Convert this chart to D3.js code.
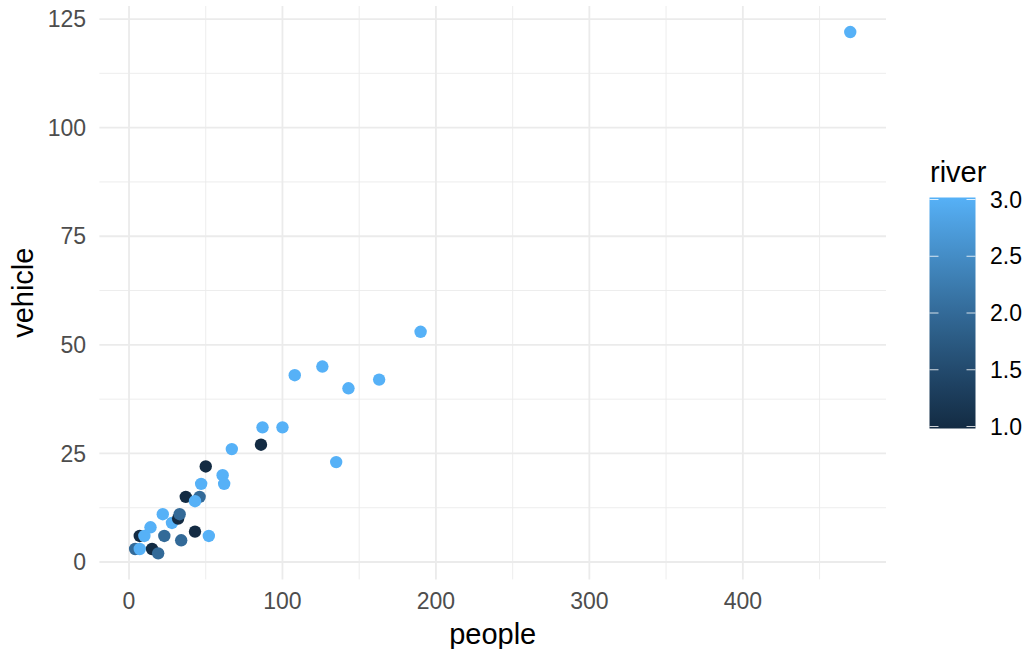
<!DOCTYPE html>
<html><head><meta charset="utf-8">
<script src="https://cdn.jsdelivr.net/npm/d3@7"></script>
<style>body{margin:0;background:#fff;font-family:"Liberation Sans",Arial,sans-serif;}</style>
</head><body><svg id="c" width="1028" height="649"></svg>
<script>
const people  = [4, 7, 15, 19, 7, 10, 23, 34, 43, 52, 14, 22, 28, 32, 33, 37, 46, 43, 47, 50, 61, 62, 67, 86, 87, 100, 135, 108, 126, 143, 163, 190, 470];
const vehicle = [3, 3, 3, 2, 6, 6, 6, 5, 7, 6, 8, 11, 9, 10, 11, 15, 15, 14, 18, 22, 20, 18, 26, 27, 31, 31, 23, 43, 45, 40, 42, 53, 122];
const river   = [2, 3, 1, 2, 1, 3, 2, 2, 1, 3, 3, 3, 3, 1, 2, 1, 2, 3, 3, 1, 3, 3, 3, 1, 3, 3, 3, 3, 3, 3, 3, 3, 3];
const xTicks = [0, 100, 200, 300, 400];
const yTicks = [0, 25, 50, 75, 100, 125];
const legendTicks = [1.0, 1.5, 2.0, 2.5, 3.0];

const svg = d3.select("#c");
const L = 99.4, R = 886, T = 6, B = 579.4;
const x = d3.scaleLinear().domain([-19.3, 493.3]).range([L, R]);
const y = d3.scaleLinear().domain([-4, 128]).range([B, T]);
const col = d3.scaleLinear().domain([1, 3]).range(["#132B43", "#56B1F7"]).interpolate(d3.interpolateLab);

const g = svg.append("g");
const xMinor = [50, 150, 250, 350, 450];
const yMinor = [12.5, 37.5, 62.5, 87.5, 112.5];
g.selectAll(".vx").data(xMinor).enter().append("line")
  .attr("x1", d => x(d)).attr("x2", d => x(d)).attr("y1", T).attr("y2", B)
  .attr("stroke", "#EBEBEB").attr("stroke-width", 0.9);
g.selectAll(".hy").data(yMinor).enter().append("line")
  .attr("y1", d => y(d)).attr("y2", d => y(d)).attr("x1", L).attr("x2", R)
  .attr("stroke", "#EBEBEB").attr("stroke-width", 0.9);
g.selectAll(".mx").data(xTicks).enter().append("line")
  .attr("x1", d => x(d)).attr("x2", d => x(d)).attr("y1", T).attr("y2", B)
  .attr("stroke", "#EBEBEB").attr("stroke-width", 1.8);
g.selectAll(".my").data(yTicks).enter().append("line")
  .attr("y1", d => y(d)).attr("y2", d => y(d)).attr("x1", L).attr("x2", R)
  .attr("stroke", "#EBEBEB").attr("stroke-width", 1.8);

g.selectAll(".xl").data(xTicks).enter().append("text")
  .attr("x", d => x(d)).attr("y", 609).attr("text-anchor", "middle")
  .attr("font-size", 23).attr("fill", "#4D4D4D").text(d => d);
g.selectAll(".yl").data(yTicks).enter().append("text")
  .attr("x", 86).attr("y", d => y(d) + 8.2).attr("text-anchor", "end")
  .attr("font-size", 23).attr("fill", "#4D4D4D").text(d => d);

svg.append("text").attr("x", (L + R) / 2).attr("y", 644).attr("text-anchor", "middle")
  .attr("font-size", 29).attr("fill", "#000").text("people");
svg.append("text").attr("transform", `translate(33,${(T + B) / 2}) rotate(-90)`)
  .attr("text-anchor", "middle").attr("font-size", 29).attr("fill", "#000").text("vehicle");

const data = people.map((p, i) => ({p, v: vehicle[i], r: river[i]}));
g.selectAll(".pt").data(data).enter().append("circle")
  .attr("cx", d => x(d.p)).attr("cy", d => y(d.v)).attr("r", 6.2)
  .attr("fill", d => col(d.r));

const lx = 929.5, lw = 46, lt = 197.5, lb = 428.5;
const ly = d3.scaleLinear().domain([1, 3]).range([426.5, 199.5]);
const defs = svg.append("defs");
const grad = defs.append("linearGradient").attr("id", "grd").attr("x1", 0).attr("y1", 1).attr("x2", 0).attr("y2", 0);
d3.range(0, 1.0001, 0.1).forEach(t => grad.append("stop").attr("offset", t).attr("stop-color", col(1 + 2 * t)));
svg.append("rect").attr("x", lx).attr("y", lt).attr("width", lw).attr("height", lb - lt).attr("fill", "url(#grd)");
legendTicks.forEach(t => {
  svg.append("line").attr("x1", lx).attr("x2", lx + 9).attr("y1", ly(t)).attr("y2", ly(t)).attr("stroke", "#fff").attr("stroke-width", 1).attr("opacity", 0.8);
  svg.append("line").attr("x1", lx + lw - 9).attr("x2", lx + lw).attr("y1", ly(t)).attr("y2", ly(t)).attr("stroke", "#fff").attr("stroke-width", 1).attr("opacity", 0.8);
  svg.append("text").attr("x", 990).attr("y", ly(t) + 8.2).attr("font-size", 23).attr("fill", "#000").text(t.toFixed(1));
});
svg.append("text").attr("x", 930).attr("y", 182).attr("font-size", 29).attr("fill", "#000").text("river");
</script></body></html>
